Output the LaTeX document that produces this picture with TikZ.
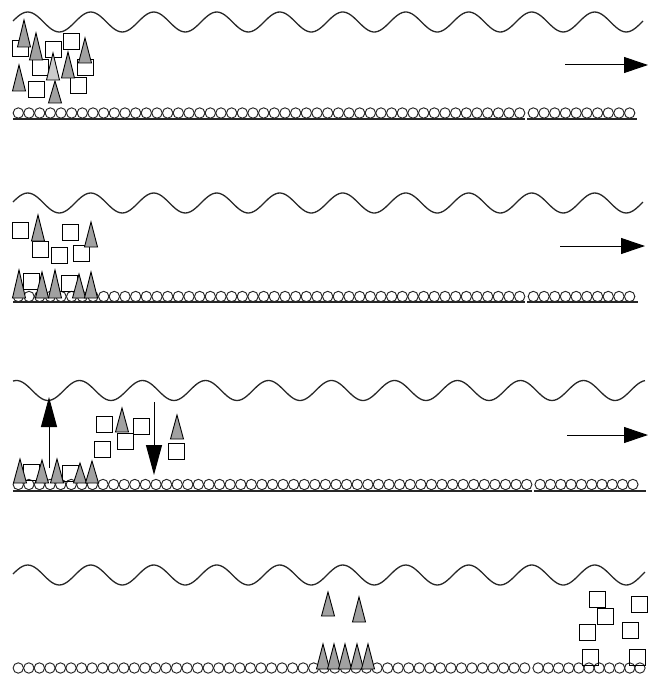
\documentclass[tikz,border=0pt]{standalone}
\usepackage{tikz}
\usetikzlibrary{arrows.meta}

% 一排小球: 起点, 终点, 个数, 高度
\newcommand{\beadrow}[4]{%
  \pgfmathsetmacro{\bp}{(#2-#1)/#3}
  \foreach \k in {1,...,#3} \draw[bead] ({#1+(\k-0.5)*\bp}, #4) circle (5.2);
}
% 波浪线: 相位, 中线, 起点, 终点
\newcommand{\wavey}[4]{%
  \draw[wave] plot[domain=#3:#4, samples=260, smooth] (\x, {#2-10*sin(5.7143*(\x-#1))});
}

\begin{document}
\begin{tikzpicture}[x=1pt, y=-1pt,
    wave/.style={line width=1.3pt, black!85},
    bead/.style={line width=0.95pt, black!85},
    floor/.style={line width=1.2pt, black!85},
    cube/.style={draw, line width=0.9pt},
    cone/.style={draw, line width=0.9pt, fill=black!37},
    pale/.style={draw, line width=0.9pt, fill=black!20},
    flow/.style={line width=1pt, -{Triangle[length=24pt, width=16pt]}},
    lift/.style={line width=1pt, -{Triangle[length=30pt, width=16pt]}}]
    \useasboundingbox (0,0) rectangle (648,674);

    % 第一层
    \wavey{12}{22}{13}{643}
    \beadrow{13}{525}{48}{113}
    \beadrow{528}{635}{10}{113}
    \draw[floor] (13,119) -- (525,119);
    \draw[floor] (527,119) -- (637,119);
    \foreach \a/\b in {12/40, 45/41, 63/33, 32/59, 77/59, 28/81, 70/77}
        \draw[cube] (\a,\b) rectangle ++(16,16);
    \foreach \a/\b/\c in {24/20/47, 36/33/60, 68/52/78, 85/38/63, 19/65/91, 55/81/103}
        \draw[cone] (\a-6.5,\c) -- (\a,\b) -- (\a+6.5,\c) -- cycle;
    \draw[pale] (46.5,80) -- (53,53) -- (59.5,80) -- cycle;
    \coordinate (f1a) at (565,65);
    \coordinate (f1b) at (648,65);
    \draw[flow] (f1a) -- (f1b);

    % 第二层
    \wavey{12}{203}{13}{643}
    \beadrow{13}{525}{48}{296.5}
    \beadrow{528}{635}{10}{296.5}
    \draw[floor] (13,302) -- (525,302);
    \draw[floor] (527,302) -- (638,302);
    \foreach \a/\b in {12/222, 62/224, 32/241, 51/247, 73/245, 23/273, 61/275}
        \draw[cube] (\a,\b) rectangle ++(16,16);
    \foreach \a/\b/\c in {38/215/241, 91/222/247, 19/270/298, 42/272/298, 55/270/298, 79/274/298, 91/272/298}
        \draw[cone] (\a-6.5,\c) -- (\a,\b) -- (\a+6.5,\c) -- cycle;
    \coordinate (f2a) at (560,246);
    \coordinate (f2b) at (645,246);
    \draw[flow] (f2a) -- (f2b);

    % 第三层
    \wavey{0.75}{390.5}{13}{645}
    \beadrow{13}{532}{49}{484.5}
    \beadrow{535}{638}{10}{484.5}
    \draw[floor] (13,491) -- (532,491);
    \draw[floor] (534,491) -- (646,491);
    \foreach \a/\b in {96/416, 133/418, 117/433, 94/441, 168/443, 23/464, 62/465}
        \draw[cube] (\a,\b) rectangle ++(16,16);
    \foreach \a/\b/\c in {122/408/432, 177/415/439, 20/459/483, 42/460/483, 57/459/483, 80/463/483, 92/461/483}
        \draw[cone] (\a-6.5,\c) -- (\a,\b) -- (\a+6.5,\c) -- cycle;
    \coordinate (upa) at (49,468);
    \coordinate (upb) at (49,397);
    \draw[lift] (upa) -- (upb);
    \coordinate (dna) at (154,402);
    \coordinate (dnb) at (154,475);
    \draw[lift] (dna) -- (dnb);
    \coordinate (f3a) at (567,435);
    \coordinate (f3b) at (648,435);
    \draw[flow] (f3a) -- (f3b);

    % 第四层
    \wavey{12}{575}{13}{645}
    \beadrow{13}{530}{49}{668}
    \beadrow{533}{645}{11}{668}
    \foreach \a/\b in {589/591, 597/608, 579/624, 631/596, 622/622, 582/649, 629/649}
        \draw[cube] (\a,\b) rectangle ++(16,16);
    \foreach \a/\b/\c in {328/592/616, 359/597/622, 323/644/669, 334/644/669, 345/644/669, 357/644/669, 368/644/669}
        \draw[cone] (\a-6.5,\c) -- (\a,\b) -- (\a+6.5,\c) -- cycle;
\end{tikzpicture}
\end{document}
